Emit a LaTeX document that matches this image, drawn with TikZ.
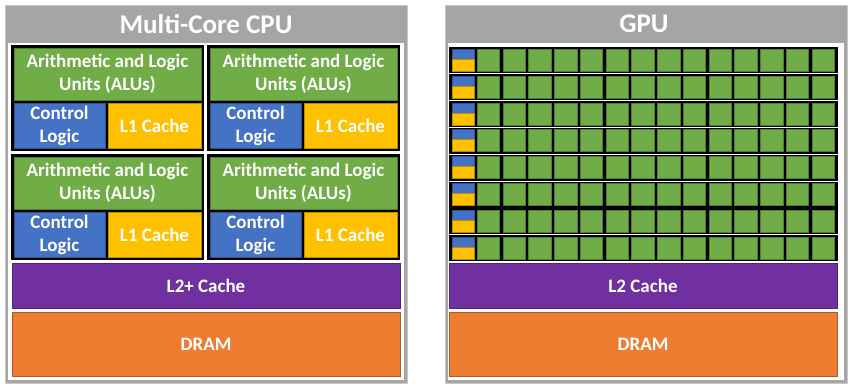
\documentclass[tikz,border=0pt]{standalone}
\usepackage{fontspec}
\setsansfont{Carlito}
\usetikzlibrary{positioning}

\definecolor{hdrgray}{HTML}{A5A5A5}
\definecolor{frmgray}{HTML}{C8C8C8}
\definecolor{aluGreen}{HTML}{70AD47}
\definecolor{aluEdge}{HTML}{507E32}
\definecolor{ctlBlue}{HTML}{4472C4}
\definecolor{ctlEdge}{HTML}{2F528F}
\definecolor{cacheYellow}{HTML}{FFC000}
\definecolor{cacheEdge}{HTML}{BC8C00}
\definecolor{ltwoPurple}{HTML}{7030A0}
\definecolor{ltwoEdge}{HTML}{522376}
\definecolor{dramOrange}{HTML}{ED7D31}
\definecolor{dramEdge}{HTML}{AE5A21}

\begin{document}
\begin{tikzpicture}[
  x=1pt, y=-1pt,
  every node/.style={font=\sffamily\bfseries},
  blk/.style={anchor=north west, inner sep=0pt, outer sep=0pt, align=center, text=white, line width=0.8pt, font=\sffamily\bfseries\fontsize{19}{23}\selectfont},
  panel/.style={blk, fill=hdrgray, draw=frmgray, minimum width=402pt, minimum height=378pt},
  inner/.style={blk, fill=white, draw=none, minimum width=396pt, minimum height=337pt},
  title/.style={text=white, font=\sffamily\bfseries\fontsize{27}{30}\selectfont},
  core/.style={blk, fill=black, draw=none, minimum width=193pt, minimum height=106pt},
  alu/.style={blk, fill=aluGreen, draw=aluEdge, minimum width=187pt, minimum height=52pt},
  ctl/.style={blk, fill=ctlBlue, draw=ctlEdge, minimum width=91pt, minimum height=45pt},
  lone/.style={blk, fill=cacheYellow, draw=cacheEdge, minimum width=93pt, minimum height=45pt},
  ltwo/.style={blk, fill=ltwoPurple, draw=ltwoEdge, minimum width=388pt, minimum height=45pt},
  dram/.style={blk, fill=dramOrange, draw=dramEdge, minimum width=388pt, minimum height=64pt},
  smrow/.style={blk, fill=black, draw=none, minimum width=389pt, minimum height=26pt},
  smctl/.style={blk, fill=ctlBlue, draw=ctlEdge, line width=0.5pt, minimum width=22pt, minimum height=10pt},
  smcache/.style={blk, fill=cacheYellow, draw=cacheEdge, line width=0.5pt, minimum width=22pt, minimum height=12pt},
  smalu/.style={blk, fill=aluGreen, draw=aluEdge, line width=0.5pt, minimum width=22.5pt, minimum height=22pt}
]
\useasboundingbox (0,0) rectangle (850,388);

% === MULTI-CORE CPU ===
\node[panel] (cpu) at (5,5) {};
\node[inner] (cpuin) at (8,43) {};
\node[title] (cputitle) at (206,24) {Multi-Core CPU};

% four cores
\foreach \cx/\cy/\n in {11/45/a, 207/45/b, 11/154/c, 207/154/d} {
  \node[core] (core\n) at (\cx,\cy) {};
  \node[alu]  (alu\n)  at (\cx+3,\cy+3)  {Arithmetic and Logic\\Units (ALUs)};
  \node[ctl]  (ctl\n)  at (\cx+3,\cy+58) {Control\\Logic};
  \node[lone] (lone\n) at (\cx+97,\cy+58) {L1 Cache};
}

\node[ltwo] (cpultwo) at (12,263) {L2+ Cache};
\node[dram] (cpudram) at (12,312) {DRAM};

% === GPU ===
\node[panel] (gpu) at (445,5) {};
\node[inner] (gpuin) at (448,43) {};
\node[title] (gputitle) at (644,24) {GPU};

% eight rows of small cores
\foreach \r in {0,...,7} {
  \pgfmathsetmacro\ry{47+26.9*\r}
  \node[smrow]   (row\r)  at (449,\ry) {};
  \node[smctl]   (sc\r)   at (452,\ry+2) {};
  \node[smcache] (sl\r)   at (452,\ry+12) {};
  \foreach \c in {0,...,13} {
    \node[smalu] (sm\r-\c) at (477+25.75*\c,\ry+2) {};
  }
}

\node[ltwo] (gpultwo) at (449,263) {L2 Cache};
\node[dram] (gpudram) at (449,312) {DRAM};

\end{tikzpicture}
\end{document}
